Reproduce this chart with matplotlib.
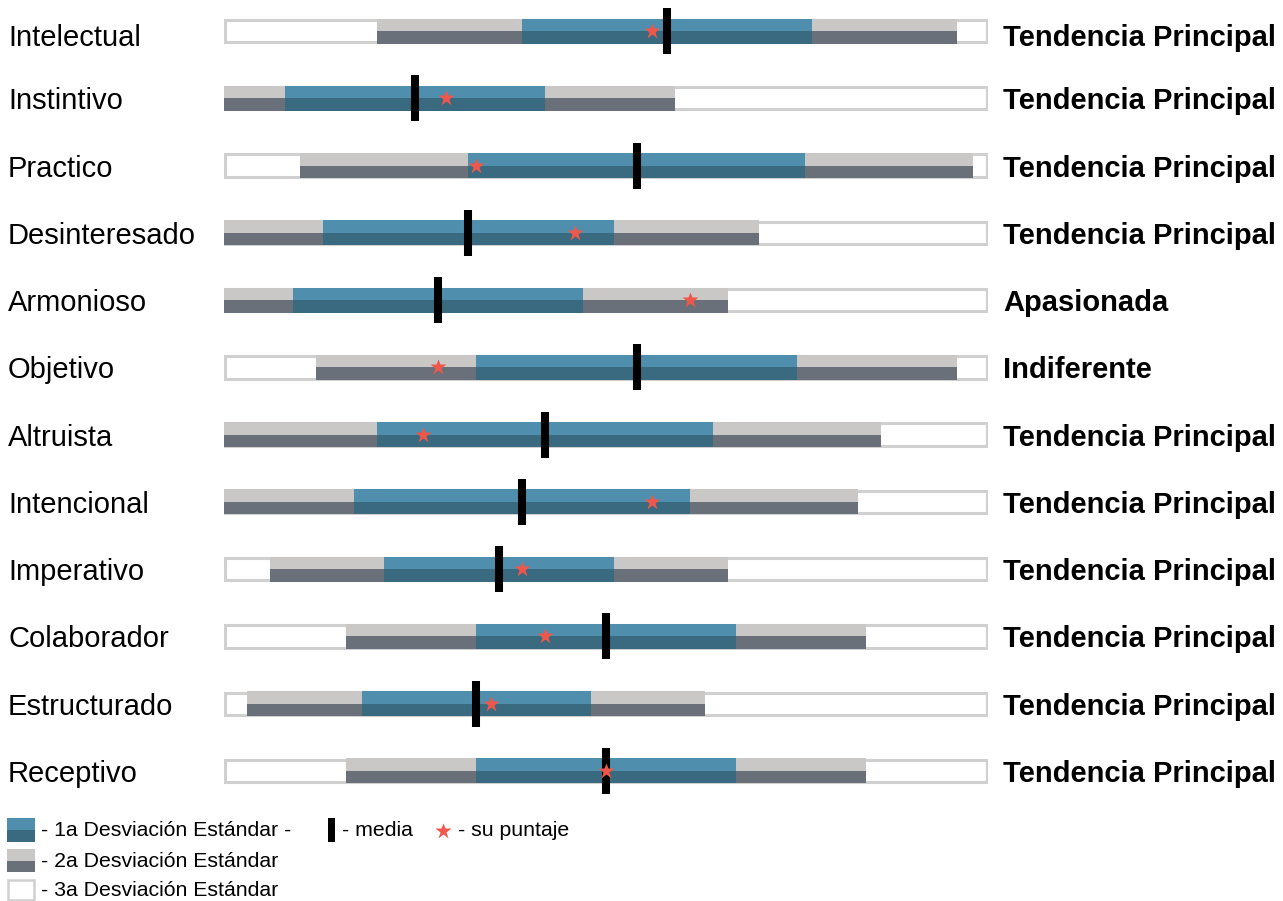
import matplotlib
matplotlib.use("Agg")
import matplotlib.pyplot as plt
from matplotlib.patches import Rectangle

plt.rcParams['font.family'] = ['Liberation Sans', 'DejaVu Sans']

# escalas, media, desviacion estandar y puntaje (escala 0-100)
escalas = ["Intelectual", "Instintivo", "Practico", "Desinteresado", "Armonioso",
           "Objetivo", "Altruista", "Intencional", "Imperativo", "Colaborador",
           "Estructurado", "Receptivo"]
medias = [58, 25, 54, 32, 28, 54, 42, 39, 36, 50, 33, 50]
desv = [19, 17, 22, 19, 19, 21, 22, 22, 15, 17, 15, 17]
puntajes = [56, 29, 33, 46, 61, 28, 26, 56, 39, 42, 35, 50]
tendencias = ["Tendencia Principal", "Tendencia Principal", "Tendencia Principal",
              "Tendencia Principal", "Apasionada", "Indiferente", "Tendencia Principal",
              "Tendencia Principal", "Tendencia Principal", "Tendencia Principal",
              "Tendencia Principal", "Tendencia Principal"]
escala_min, escala_max = 0, 100

AZUL_A, AZUL_B = "#4f8fad", "#396a80"
GRIS_A, GRIS_B = "#c9c8c6", "#6a707a"
BORDE = "#d0d0d0"
ESTRELLA = "#f0574b"

W, H = 1283, 901
fig = plt.figure(figsize=(W / 100, H / 100), dpi=100)

# eje principal: filas en unidades de indice
fila0, paso = 31, 67.27
ax_top, ax_bot = 0, 800
ax = fig.add_axes([224 / W, 1 - ax_bot / H, 764 / W, (ax_bot - ax_top) / H])
ax.set_xlim(escala_min, escala_max)
ax.set_ylim((ax_bot - fila0) / paso, (ax_top - fila0) / paso)
ax.axis("off")

alto = 25 / paso
alto_media = 46 / paso


def franja(x0, x1, y, c_sup, c_inf):
    x0 = max(x0, escala_min)
    x1 = min(x1, escala_max)
    ax.add_patch(Rectangle((x0, y - alto / 2), x1 - x0, alto / 2, fc=c_sup, ec="none", zorder=3))
    ax.add_patch(Rectangle((x0, y), x1 - x0, alto / 2, fc=c_inf, ec="none", zorder=3))


for i, (nom, m, s, p, t) in enumerate(zip(escalas, medias, desv, puntajes, tendencias)):
    # 3a desviacion: todo el rango
    ax.add_patch(Rectangle((escala_min + 0.15, i - alto / 2 + 0.02), escala_max - escala_min - 0.3,
                           alto - 0.04, fc="white", ec=BORDE, lw=2.2, zorder=2))
    franja(m - 2 * s, m + 2 * s, i, GRIS_A, GRIS_B)
    franja(m - s, m + s, i, AZUL_A, AZUL_B)
    ax.vlines(m, i - alto_media / 2, i + alto_media / 2, color="black", lw=5.8, zorder=5)
    ax.plot(p, i, marker="*", color=ESTRELLA, markersize=12, mec="none", zorder=6)
    base = fila0 + i * paso + (15.5 if i == 0 else 11)
    fig.text(8 / W, 1 - base / H, nom, fontsize=21, va="baseline", ha="left")
    fig.text(1003 / W, 1 - base / H, t, fontsize=21, fontweight="bold",
             va="baseline", ha="left")

# leyenda
lg = fig.add_axes([0, 0, 1, 1])
lg.set_xlim(0, W)
lg.set_ylim(H, 0)
lg.axis("off")
sw = 28
filas_leyenda = [(818, 842, AZUL_A, AZUL_B, "- 1a Desviación Estándar -"),
                 (849, 872, GRIS_A, GRIS_B, "- 2a Desviación Estándar"),
                 (879, 901, "white", "white", "- 3a Desviación Estándar")]
for y0, y1, ca, cb, txt in filas_leyenda:
    mid = (y0 + y1) / 2
    if ca == "white":
        lg.add_patch(Rectangle((8, y0 + 1), sw - 2, y1 - y0 - 2, fc="white", ec=BORDE, lw=1.8))
    else:
        lg.add_patch(Rectangle((7, y0), sw, mid - y0, fc=ca, ec="none"))
        lg.add_patch(Rectangle((7, mid), sw, y1 - mid, fc=cb, ec="none"))
    lg.text(41, mid + 1, txt, fontsize=15.3, va="center", ha="left")

lg.add_patch(Rectangle((328, 818), 7, 24, fc="black", ec="none"))
lg.text(342, 831, "- media", fontsize=15.3, va="center", ha="left")
lg.plot(443, 831, marker="*", color=ESTRELLA, markersize=12, mec="none")
lg.text(458, 831, "- su puntaje", fontsize=15.3, va="center", ha="left")

fig.savefig("out.png", dpi=100)
